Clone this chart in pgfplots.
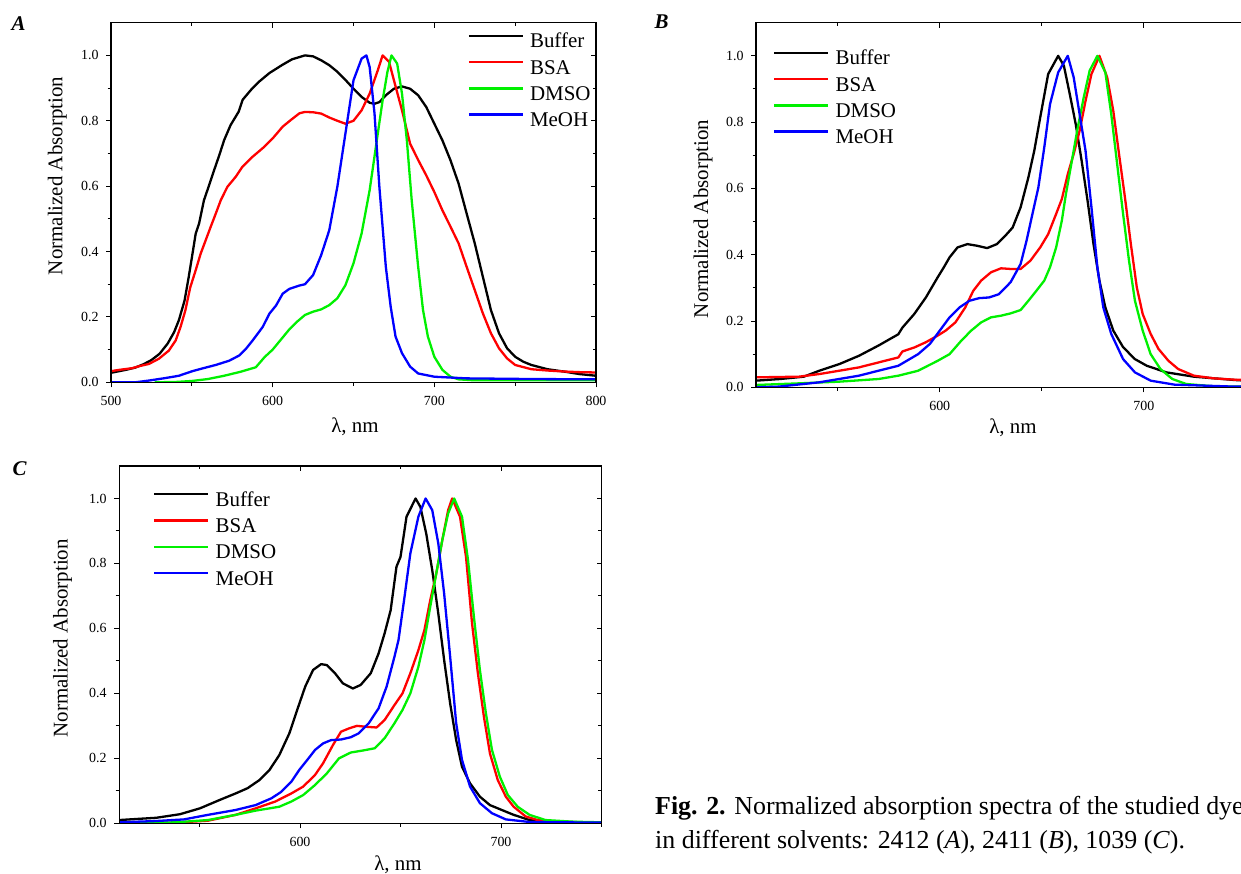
\documentclass[border=0pt]{standalone}
\usepackage{fontspec}
\setmainfont{Liberation Serif}
\usepackage{pgfplots}
\pgfplotsset{compat=1.18}
\definecolor{cbuf}{RGB}{0,0,0}
\definecolor{cbsa}{RGB}{255,0,0}
\definecolor{cdmso}{RGB}{0,240,0}
\definecolor{cmeoh}{RGB}{0,0,255}
\pgfplotsset{
  panel/.style={
    scale only axis, ymin=0, ymax=1.1,
    ytick={0,0.2,0.4,0.6,0.8,1.0}, minor ytick={0.1,0.3,0.5,0.7,0.9},
    axis line style={line width=1.1bp},
    major tick length=5bp, minor tick length=3.5bp,
    tick style={black, line width=1bp},
    tick label style={font=\fontsize{14}{16}\selectfont},
    /pgf/number format/assume math mode=true,
    yticklabel style={xshift=-4bp, /pgf/number format/.cd, fixed, fixed zerofill, precision=1, /tikz/.cd},
    xticklabel style={yshift=-5bp},
    xtick pos=left, ytick pos=left, tick align=outside,
    legend cell align=left,
    legend image code/.code={\draw[##1, line width=2.4bp] (0bp,7bp) -- (54bp,7bp);},
    legend style={draw=none, fill=none, inner sep=0pt, row sep=4.3bp, column sep=6bp,
      font=\fontsize{21}{24}\selectfont,
      nodes={inner sep=0pt, text height=16bp, text depth=6bp}},
  },
  mirror/.style={
    scale only axis, ymin=0, ymax=1.1,
    ytick={0,0.2,0.4,0.6,0.8,1.0}, minor ytick={0.1,0.3,0.5,0.7,0.9},
    axis line style={line width=1.1bp},
    major tick length=5bp, minor tick length=3.5bp,
    tick style={black, line width=1bp},
    xtick pos=right, ytick pos=right, tick align=inside,
    xticklabels={}, yticklabels={},
  },
  curve/.style={line width=2.3bp, line join=round},
}
\begin{document}
\begin{tikzpicture}
\useasboundingbox (0bp,0bp) rectangle (1241bp,874bp);
\clip (0bp,0bp) rectangle (1241bp,874bp);

% ---------------- panel A
\begin{axis}[panel, at={(111bp,491.7bp)}, anchor=south west, width=485bp, height=359.6bp,
  xmin=500, xmax=800, xtick={500,600,700,800}, minor xtick={550,650,750},
  legend style={at={(axis cs:720.5,1.073)}, anchor=north west}]
\addplot[curve, cbuf] coordinates {
(500,0.029)(505,0.034)(510,0.039)(515,0.045)(520,0.055)(525,0.068)(530,0.087)(535,0.118)
(539,0.153)(542,0.19)(545.5,0.25)(548,0.32)(550.3,0.39)(552.4,0.455)(554.5,0.486)(557.5,0.557)
(560.7,0.603)(563.8,0.649)(567,0.695)(570,0.741)(574,0.787)(579,0.828)(581.4,0.864)(586.5,0.894)
(591.7,0.92)(598,0.946)(606,0.971)(612,0.988)(620,1.0)(625,0.997)(630,0.985)(635,0.97)(640,0.95)
(645,0.925)(650,0.898)(655,0.873)(660,0.855)(663,0.852)(666,0.857)(670,0.878)(675,0.898)
(680,0.905)(685,0.898)(690,0.878)(695,0.842)(700,0.791)(705,0.74)(710,0.679)(715,0.608)
(720,0.516)(725,0.425)(730,0.323)(735,0.221)(740,0.15)(745,0.104)(750,0.078)(755,0.063)
(760,0.053)(770,0.04)(780,0.033)(790,0.025)(800,0.02)};
\addlegendentry{Buffer}
\addplot[curve, cbsa] coordinates {
(500,0.034)(505,0.038)(513,0.043)(518,0.05)(523.4,0.056)(529.6,0.072)(535.8,0.097)(540,0.128)
(543,0.169)(546,0.22)(549,0.29)(552.4,0.343)(555.5,0.394)(558.6,0.435)(561.7,0.476)(564.8,0.516)
(567.9,0.557)(572,0.598)(577.2,0.629)(581.4,0.66)(587.6,0.69)(593.8,0.716)(600,0.746)(606.2,0.782)
(611.4,0.803)(616.6,0.823)(620,0.827)(625,0.826)(630,0.822)(635,0.81)(640,0.8)(645,0.791)
(650,0.8)(655,0.832)(660,0.883)(665,0.954)(668,1.0)(672,0.98)(675,0.924)(680,0.832)(685,0.73)
(690,0.68)(695,0.633)(700,0.582)(705,0.526)(710,0.476)(715,0.425)(720,0.353)(725,0.282)
(730,0.211)(735,0.15)(740,0.104)(745,0.073)(750,0.053)(760,0.04)(770,0.036)(780,0.033)
(790,0.031)(800,0.03)};
\addlegendentry{BSA}
\addplot[curve, cdmso] coordinates {
(527,0)(540,0.001)(550,0.004)(560,0.01)(570,0.02)(580,0.032)(589.6,0.046)(595,0.077)(600,0.1)
(605,0.13)(610,0.16)(615,0.185)(620,0.206)(625,0.216)(630,0.223)(635,0.236)(640,0.257)
(645,0.297)(650,0.364)(655,0.455)(660,0.588)(665,0.76)(668,0.862)(671,0.95)(673.5,1.0)
(677,0.975)(680,0.883)(683,0.74)(686,0.557)(690,0.353)(693,0.221)(696,0.14)(700,0.078)
(705,0.038)(710,0.017)(715,0.009)(725,0.006)(800,0.006)};
\addlegendentry{DMSO}
\addplot[curve, cmeoh] coordinates {
(500,0)(515,0)(523,0.005)(533.7,0.013)(542,0.02)(550.3,0.034)(557,0.043)(564.8,0.053)
(573.1,0.066)(579.3,0.082)(583.4,0.102)(587.6,0.128)(593.8,0.169)(598,0.21)(602.1,0.235)
(606.2,0.271)(610.4,0.286)(616.6,0.296)(620,0.3)(625,0.328)(630,0.389)(635,0.465)(640,0.598)
(645,0.761)(650,0.924)(655,0.99)(658,1.0)(660,0.964)(663,0.822)(666,0.598)(670,0.353)
(673,0.231)(676,0.14)(680,0.089)(685,0.048)(690,0.027)(700,0.017)(720,0.012)(760,0.01)(800,0.009)};
\addlegendentry{MeOH}
\end{axis}
\begin{axis}[mirror, at={(111bp,491.7bp)}, anchor=south west, width=485bp, height=359.6bp,
  xmin=500, xmax=800, xtick={500,600,700,800}, minor xtick={550,650,750}]
\end{axis}

% ---------------- panel B
\begin{axis}[panel, at={(756bp,486.7bp)}, anchor=south west, width=490bp, height=364.6bp,
  xmin=510, xmax=750, xtick={600,700}, minor xtick={550,650,750},
  legend style={at={(axis cs:518.3,1.022)}, anchor=north west}]
\addplot[curve, cbuf] coordinates {
(510,0.02)(521.8,0.025)(533.4,0.032)(541,0.05)(550.8,0.07)(560.4,0.095)(570,0.126)(579.7,0.16)
(581.7,0.18)(587.5,0.221)(593.2,0.271)(599,0.332)(602,0.362)(604.8,0.392)(608.7,0.422)
(613.5,0.432)(618.3,0.427)(623.2,0.42)(628,0.432)(632.8,0.462)(635.7,0.482)(639.6,0.543)
(643.4,0.633)(646.3,0.714)(649.2,0.814)(653.1,0.945)(658,1.0)(660.8,0.97)(663.7,0.884)
(666.6,0.794)(669.5,0.683)(672.4,0.563)(675.3,0.432)(678.2,0.322)(681.1,0.241)(685,0.171)
(689.8,0.121)(695.6,0.085)(701.4,0.065)(711,0.045)(724.5,0.032)(744.4,0.022)(750,0.02)};
\addlegendentry{Buffer}
\addplot[curve, cbsa] coordinates {
(510,0.03)(531,0.032)(541,0.04)(550.8,0.05)(560.4,0.06)(570,0.075)(579.7,0.09)(581.7,0.108)
(587.5,0.12)(593.2,0.136)(599,0.156)(602.9,0.171)(607.7,0.196)(612.5,0.241)(616.4,0.291)
(620.3,0.322)(625.1,0.347)(630,0.359)(634.7,0.357)(639.6,0.357)(644.4,0.382)(649.2,0.422)
(653.1,0.462)(657,0.523)(659.8,0.568)(662.7,0.643)(665.6,0.704)(668.5,0.774)(671.4,0.864)
(674.3,0.945)(678.2,1.0)(682,0.935)(685,0.834)(687.8,0.704)(690.7,0.573)(693.6,0.432)
(696.5,0.302)(699.4,0.221)(703.3,0.161)(707.1,0.116)(712,0.08)(716.8,0.055)(724.5,0.035)
(734.2,0.027)(744.4,0.023)(750,0.022)};
\addlegendentry{BSA}
\addplot[curve, cdmso] coordinates {
(510,0.007)(531.5,0.012)(550.8,0.017)(570,0.025)(579.7,0.035)(589.4,0.05)(599,0.08)(604.8,0.1)
(610.6,0.141)(615.4,0.171)(620.3,0.196)(625.1,0.211)(630,0.216)(634.7,0.223)(639.6,0.233)
(643.4,0.261)(647.3,0.291)(651.2,0.322)(654,0.362)(657,0.422)(659.8,0.503)(661.8,0.583)
(664.7,0.683)(667.6,0.784)(670.5,0.874)(673.4,0.955)(677.2,1.0)(681.1,0.95)(684,0.824)
(686.9,0.673)(689.8,0.523)(692.7,0.382)(695.6,0.261)(699.4,0.171)(703.3,0.1)(708.1,0.055)
(713.9,0.025)(720.7,0.01)(734.2,0.003)(750,0.002)};
\addlegendentry{DMSO}
\addplot[curve, cmeoh] coordinates {
(510,0)(521,0.002)(541,0.015)(560.4,0.035)(570,0.05)(579.7,0.065)(589.4,0.1)(595.2,0.131)
(600,0.171)(604.8,0.211)(609.7,0.241)(614.5,0.261)(619.3,0.269)(624.1,0.271)(629,0.281)
(634.7,0.317)(639.6,0.372)(642.5,0.442)(645.4,0.523)(648.3,0.603)(651.2,0.724)(654,0.854)
(658,0.95)(662.7,1.0)(665.6,0.935)(668.5,0.824)(671.4,0.714)(674.3,0.543)(677.2,0.362)
(680.1,0.241)(684,0.161)(689.8,0.085)(695.6,0.045)(703.3,0.02)(714.9,0.008)(744.4,0.002)(750,0.002)};
\addlegendentry{MeOH}
\end{axis}
\begin{axis}[mirror, at={(756bp,486.7bp)}, anchor=south west, width=490bp, height=364.6bp,
  xmin=510, xmax=750, xtick={600,700}, minor xtick={550,650,750}]
\end{axis}

% ---------------- panel C
\begin{axis}[panel, at={(119.1bp,50.7bp)}, anchor=south west, width=482.4bp, height=357.3bp,
  xmin=510, xmax=750, xtick={600,700}, minor xtick={550,650,750},
  legend style={at={(axis cs:526.9,1.026)}, anchor=north west}]
\addplot[curve, cbuf] coordinates {
(510,0.01)(528.5,0.017)(540.3,0.028)(550.2,0.046)(560.1,0.072)(568,0.092)(573.9,0.108)
(579.8,0.133)(584.8,0.164)(589.7,0.21)(594.7,0.277)(598.6,0.349)(602.6,0.421)(606.5,0.472)
(610.5,0.49)(613.4,0.487)(617.4,0.462)(621.3,0.431)(626.3,0.415)(630.2,0.426)(635.2,0.462)
(639.1,0.523)(642.1,0.585)(645.1,0.656)(648,0.79)(650,0.82)(653,0.944)(657.5,1.0)(659.9,0.974)
(662.8,0.892)(665.8,0.779)(668.8,0.646)(671.7,0.503)(674.7,0.369)(677.7,0.256)(680.6,0.174)
(684.6,0.123)(689.5,0.082)(694.5,0.056)(700.4,0.041)(706.3,0.026)(714.2,0.01)(726.1,0.005)(750,0.002)};
\addlegendentry{Buffer}
\addplot[curve, cbsa] coordinates {
(510,0)(538.3,0.002)(554.2,0.008)(568,0.026)(577.9,0.046)(587.7,0.067)(595.7,0.092)(601.6,0.113)
(607.5,0.149)(611.5,0.185)(616.4,0.241)(620.4,0.282)(624.3,0.292)(628.3,0.3)(633.2,0.297)
(638.1,0.295)(642.1,0.318)(647,0.364)(651,0.4)(654.9,0.462)(658.9,0.533)(661.9,0.595)
(664.8,0.687)(667.8,0.769)(670.8,0.872)(673.7,0.964)(675.7,1.0)(679.6,0.944)(682.6,0.82)
(685.6,0.615)(688.5,0.462)(691.5,0.328)(694.5,0.215)(698.4,0.133)(702.4,0.082)(706.3,0.051)
(712.3,0.021)(718.2,0.01)(730,0.004)(750,0.002)};
\addlegendentry{BSA}
\addplot[curve, cdmso] coordinates {
(510,0)(538,0.003)(554.2,0.01)(568,0.026)(577.9,0.039)(589.7,0.051)(595.7,0.067)(601.6,0.087)
(607.5,0.118)(613.4,0.154)(619.4,0.2)(625.3,0.218)(631.2,0.224)(637.2,0.231)(642.1,0.262)
(647,0.308)(651,0.349)(654.9,0.4)(658.9,0.482)(661.9,0.564)(664.8,0.667)(667.8,0.769)
(670.8,0.872)(673.7,0.954)(676.7,1.0)(680.6,0.944)(683.6,0.81)(686.6,0.631)(689.5,0.472)
(692.5,0.338)(695.5,0.226)(699.4,0.144)(703.4,0.087)(708.3,0.051)(714.2,0.026)(722.1,0.01)
(735.9,0.005)(750,0.003)};
\addlegendentry{DMSO}
\addplot[curve, cmeoh] coordinates {
(510,0.003)(528.5,0.007)(542.3,0.012)(554.2,0.026)(568,0.041)(577.9,0.056)(585.8,0.077)
(590.7,0.097)(595.7,0.128)(599.6,0.164)(603.6,0.195)(607.5,0.226)(611.5,0.246)(615.4,0.256)
(620.4,0.258)(625.3,0.265)(629.2,0.277)(634.2,0.308)(639.1,0.354)(643.1,0.421)(647,0.513)
(649,0.564)(652,0.697)(654.9,0.831)(658.9,0.944)(662.5,1.0)(665.8,0.964)(668.8,0.862)
(671.7,0.708)(674.7,0.513)(677.7,0.308)(680.6,0.195)(684.6,0.113)(689.5,0.062)(695.5,0.031)
(702.4,0.012)(714.2,0.004)(750,0.002)};
\addlegendentry{MeOH}
\end{axis}
\begin{axis}[mirror, at={(119.1bp,50.7bp)}, anchor=south west, width=482.4bp, height=357.3bp,
  xmin=510, xmax=750, xtick={600,700}, minor xtick={550,650,750}]
\end{axis}

% ---------------- labels
\begin{scope}[every node/.style={inner sep=0pt, font=\fontsize{21}{24}\selectfont}]
\node[font=\fontsize{21}{24}\selectfont\bfseries\itshape] at (18.6bp,850.7bp) {A};
\node[font=\fontsize{21}{24}\selectfont\bfseries\itshape] at (661.5bp,852.3bp) {B};
\node[font=\fontsize{21}{24}\selectfont\bfseries\itshape] at (19.6bp,405.7bp) {C};
\node[rotate=90] at (57.3bp,698bp) {Normalized Absorption};
\node[rotate=90] at (703bp,655bp) {Normalized Absorption};
\node[rotate=90] at (62.7bp,235.7bp) {Normalized Absorption};
\node at (355bp,447bp) {λ, nm};
\node at (1013bp,446bp) {λ, nm};
\node at (398bp,9.7bp) {λ, nm};
\end{scope}
\node[anchor=base west, inner sep=0pt, font=\fontsize{26}{30}\selectfont] at (655bp,59bp)
  {\textbf{Fig. 2.} Normalized absorption spectra of the studied dyes};
\node[anchor=base west, inner sep=0pt, font=\fontsize{26}{30}\selectfont] at (655bp,25.7bp)
  {in different solvents: 2412 (\textit{A}), 2411 (\textit{B}), 1039 (\textit{C}).};
\end{tikzpicture}
\end{document}
